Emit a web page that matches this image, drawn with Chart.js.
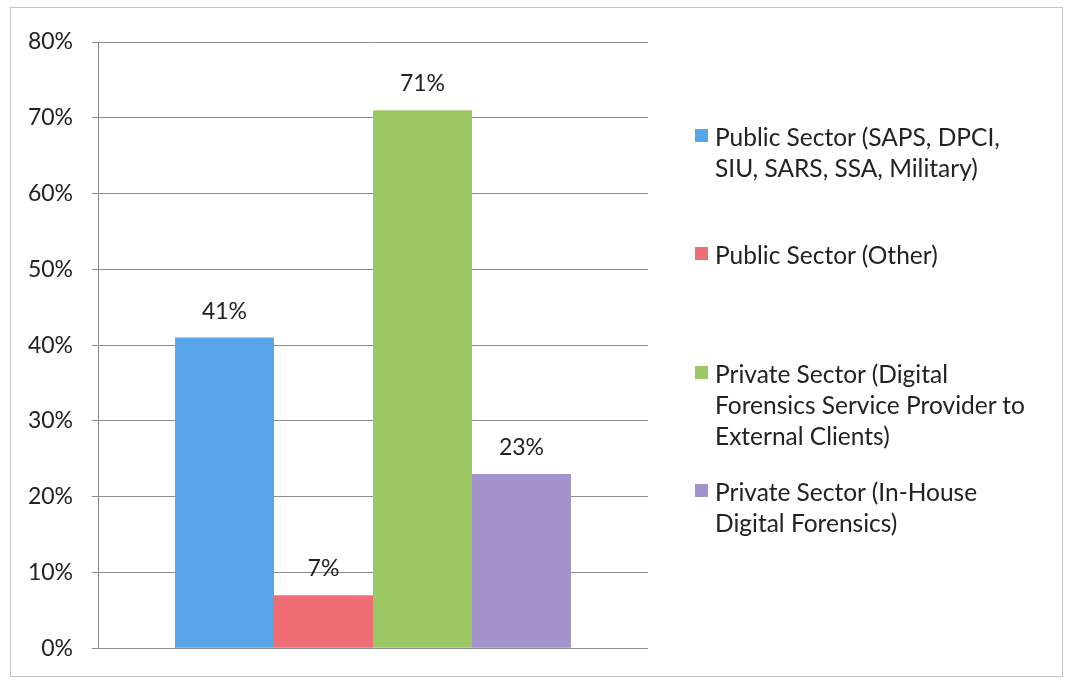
<!DOCTYPE html>
<html>
<head>
<meta charset="utf-8">
<script src="https://cdn.jsdelivr.net/npm/chart.js@4.4.1/dist/chart.umd.min.js"></script>
<style>
  html,body{margin:0;padding:0;background:#fff;}
  #wrap{position:relative;width:1066px;height:681px;overflow:hidden;}
  #frame{position:absolute;left:10px;top:7px;width:1053px;height:670px;border:1px solid #c4c4c4;box-sizing:border-box;}
  #chart{position:absolute;left:0;top:0;}
  #legend{position:absolute;left:695px;top:0;width:360px;font-family:'Lato',sans-serif;font-size:24.5px;line-height:31px;color:#222;}
  .lg-item{position:absolute;left:0;display:flex;align-items:flex-start;}
  .lg-box{width:13px;height:13px;margin-top:8px;margin-right:7px;flex:none;}
</style>
</head>
<body>
<div id="wrap">
  <div id="frame"></div>
  <canvas id="chart" width="1066" height="681"></canvas>
  <div id="legend"></div>
</div>
<script>
// ── DATA ──
const categories = [''];
const seriesNames = [
  'Public Sector (SAPS, DPCI, SIU, SARS, SSA, Military)',
  'Public Sector (Other)',
  'Private Sector (Digital Forensics Service Provider to External Clients)',
  'Private Sector (In-House Digital Forensics)'
];
const seriesValues = [41, 7, 71, 23];
const seriesColors = ['#58A6E8', '#EF6E76', '#9CC864', '#A492CC'];
const tickLabels = ['0%','10%','20%','30%','40%','50%','60%','70%','80%'];

// legend wrapping, one array of lines per series
const legendLines = [
  ['Public Sector (SAPS, DPCI,', 'SIU, SARS, SSA, Military)'],
  ['Public Sector (Other)'],
  ['Private Sector (Digital', 'Forensics Service Provider to', 'External Clients)'],
  ['Private Sector (In-House', 'Digital Forensics)']
];
const legendTops = [121, 239, 358, 476];

const TXT = '#222';
const GRID = '#8c8c8c';
const FONT = "'Lato', sans-serif";

// value labels above each bar
const barLabels = {
  id: 'barLabels',
  afterDatasetsDraw(chart){
    const ctx = chart.ctx;
    ctx.save();
    ctx.font = `23px ${FONT}`;
    ctx.fillStyle = TXT;
    ctx.textAlign = 'center';
    ctx.textBaseline = 'alphabetic';
    chart.data.datasets.forEach((ds, i) => {
      chart.getDatasetMeta(i).data.forEach((bar, j) => {
        ctx.fillText(ds.data[j] + '%', bar.x, bar.y - 19);
      });
    });
    ctx.restore();
  }
};

const datasets = seriesNames.map((name, i) => ({
  label: name,
  data: [seriesValues[i]],
  backgroundColor: seriesColors[i],
  borderWidth: 0,
  barPercentage: 1,
  categoryPercentage: 0.72
}));

new Chart(document.getElementById('chart').getContext('2d'), {
  type: 'bar',
  data: { labels: categories, datasets },
  options: {
    responsive: false,
    animation: false,
    layout: { padding: { left: 0, top: 42, right: 418, bottom: 32 } },
    plugins: { legend: { display: false }, tooltip: { enabled: false } },
    scales: {
      x: { display: false },
      y: {
        min: 0, max: 80,
        afterFit: s => { s.width = 98; },
        afterBuildTicks: s => { s.ticks = tickLabels.map((t, i) => ({ value: i * 10 })); },
        ticks: {
          padding: 19,
          color: TXT,
          font: { family: FONT, size: 23 },
          callback: (v, i) => tickLabels[i]
        },
        grid: { color: GRID, lineWidth: 1, tickLength: 6, drawTicks: true },
        border: { color: GRID, width: 1 }
      }
    }
  },
  plugins: [barLabels]
});

// legend beside the plot
const lg = document.getElementById('legend');
legendLines.forEach((lines, i) => {
  const item = document.createElement('div');
  item.className = 'lg-item';
  item.style.top = legendTops[i] + 'px';
  const box = document.createElement('div');
  box.className = 'lg-box';
  box.style.background = seriesColors[i];
  const txt = document.createElement('div');
  txt.innerHTML = lines.join('<br>');
  item.appendChild(box);
  item.appendChild(txt);
  lg.appendChild(item);
});
</script>
</body>
</html>
